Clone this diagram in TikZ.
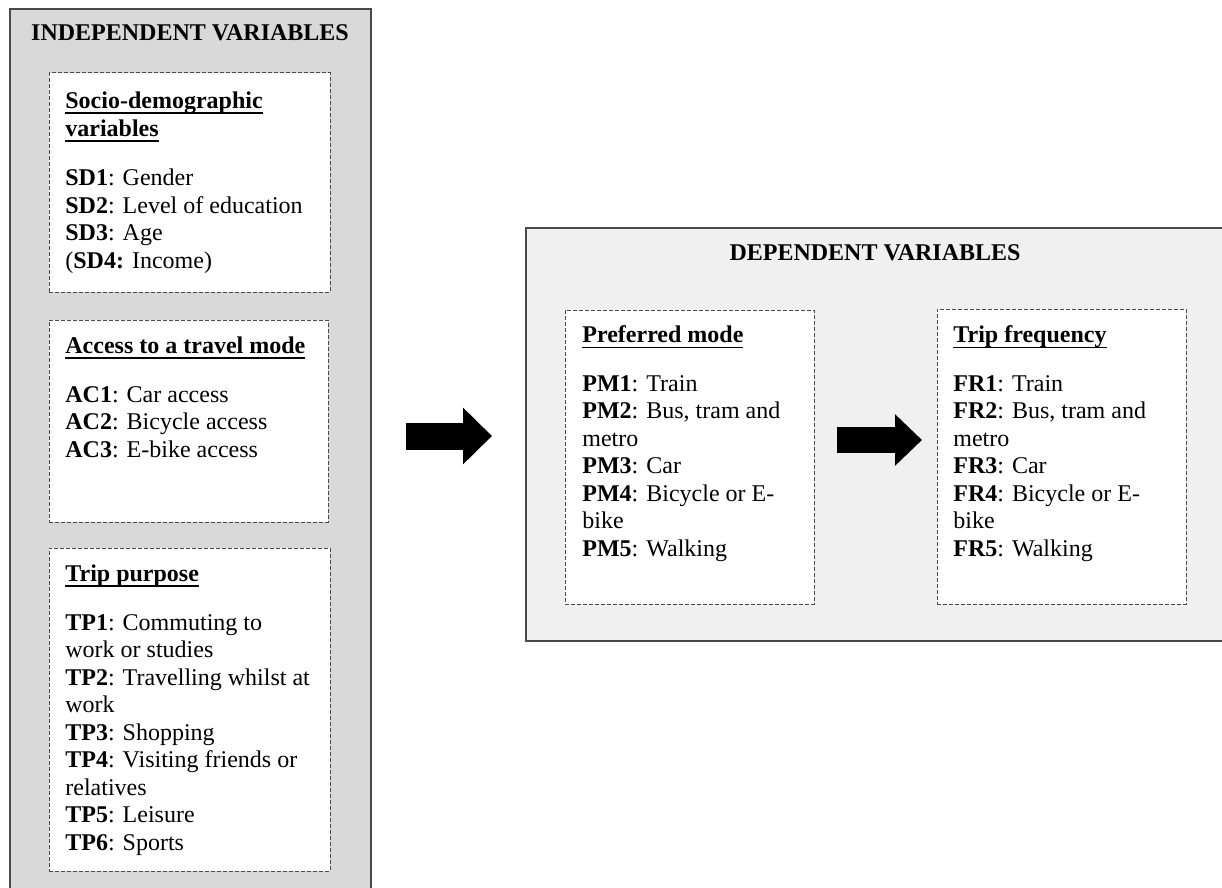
\documentclass[tikz,border=0pt]{standalone}
\usepackage{fontspec}
\setmainfont{Liberation Serif}
\usetikzlibrary{arrows.meta,positioning,fit}
\definecolor{indepfill}{HTML}{D9D9D9}
\definecolor{depfill}{HTML}{F0F0F0}
\definecolor{frame}{HTML}{4A4A4A}
% bold heading with a Word-like underline
\newcommand{\hd}[1]{\textbf{\sbox0{#1}\rlap{\rule[-2.8pt]{\wd0}{0.9pt}}\usebox0}}
\tikzset{
  outer/.style={draw=frame,line width=1pt,inner sep=0pt},
  grp/.style={draw=frame,dash pattern=on 2pt off 1pt,line width=0.5pt,fill=white,inner sep=0pt},
  lst/.style={anchor=north west,align=left,inner sep=0pt,font=\fontsize{12}{13.75}\selectfont},
  ttl/.style={anchor=base,inner sep=0pt,font=\fontsize{12}{14}\selectfont\bfseries},
}

\begin{document}
\begin{tikzpicture}[x=0.5pt,y=-0.5pt]
  \useasboundingbox (0,0) rectangle (1222,888);
  \clip (0,0) rectangle (1222,888);

  % independent variables
  \node[outer,fill=indepfill,fit={(10,9) (371,920)}] (indep) {};
  \node[ttl] (indeptitle) at (190,41) {INDEPENDENT VARIABLES};

  \node[grp,fit={(49,73) (330,292)}] (sd) {};
  \node[lst] (sdtext) at (65,91.5) {\hd{Socio-demographic}\\\hd{variables}\\[11pt]
    \textbf{SD1}: Gender\\\textbf{SD2}: Level of education\\\textbf{SD3}: Age\\(\textbf{SD4:} Income)};

  \node[grp,fit={(49,320) (328,522)}] (ac) {};
  \node[lst] (actext) at (65,336.5) {\hd{Access to a travel mode}\\[10.5pt]
    \textbf{AC1}: Car access\\\textbf{AC2}: Bicycle access\\\textbf{AC3}: E-bike access};

  \node[grp,fit={(49,548) (330,871)}] (tp) {};
  \node[lst] (tptext) at (65,564.5) {\hd{Trip purpose}\\[10.5pt]
    \textbf{TP1}: Commuting to\\work or studies\\\textbf{TP2}: Travelling whilst at\\work\\
    \textbf{TP3}: Shopping\\\textbf{TP4}: Visiting friends or\\relatives\\
    \textbf{TP5}: Leisure\\\textbf{TP6}: Sports};

  % dependent variables
  \node[outer,fill=depfill,fit={(526,228) (1240,641)}] (dep) {};
  \node[ttl] (deptitle) at (875,260) {DEPENDENT VARIABLES};

  \node[grp,fit={(565,310) (814,604)}] (pm) {};
  \node[lst] (pmtext) at (582,325.5) {\hd{Preferred mode}\\[10.5pt]
    \textbf{PM1}: Train\\\textbf{PM2}: Bus, tram and\\metro\\\textbf{PM3}: Car\\
    \textbf{PM4}: Bicycle or E-\\bike\\\textbf{PM5}: Walking};

  \node[grp,fit={(937,309) (1186,604)}] (fr) {};
  \node[lst] (frtext) at (953,325.5) {\hd{Trip frequency}\\[10.5pt]
    \textbf{FR1}: Train\\\textbf{FR2}: Bus, tram and\\metro\\\textbf{FR3}: Car\\
    \textbf{FR4}: Bicycle or E-\\bike\\\textbf{FR5}: Walking};

  % block arrows
  \coordinate (a1s) at (406,436);
  \coordinate (a1e) at (492,436);
  \coordinate (a2s) at (837,440);
  \coordinate (a2e) at (922,440);
  \draw[line width=13.5pt,-{Triangle[length=14.5pt,width=27.5pt]}] (a1s) -- (a1e);
  \draw[line width=13pt,-{Triangle[length=13.5pt,width=25pt]}] (a2s) -- (a2e);
\end{tikzpicture}
\end{document}
